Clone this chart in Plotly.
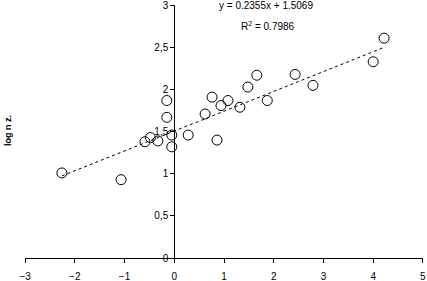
import plotly.graph_objects as go

# Data
x_vals = [-2.26, -1.07, -0.59, -0.48, -0.33, -0.15, -0.15, -0.05, -0.05, 0.28,
          0.62, 0.76, 0.86, 0.94, 1.08, 1.32, 1.48, 1.66, 1.87, 2.43, 2.79, 4.00, 4.22]
y_vals = [1.01, 0.93, 1.38, 1.43, 1.39, 1.87, 1.67, 1.46, 1.32, 1.46,
          1.71, 1.91, 1.40, 1.81, 1.87, 1.79, 2.03, 2.17, 1.87, 2.18, 2.05, 2.33, 2.61]
slope = 0.2355
intercept = 1.5069
r_squared = 0.7986

x_ticks = [-3, -2, -1, 0, 1, 2, 3, 4, 5]
y_ticks = [0, 0.5, 1, 1.5, 2, 2.5, 3]
y_tick_labels = ["0", "0,5", "1", "1,5", "2", "2,5", "3"]

x_fit = [min(x_vals), max(x_vals)]
y_fit = [slope * v + intercept for v in x_fit]

fig = go.Figure()
fig.add_trace(go.Scatter(
    x=x_fit, y=y_fit, mode="lines",
    line=dict(color="black", width=1, dash="dot"),
    hoverinfo="skip", showlegend=False))
fig.add_trace(go.Scatter(
    x=x_vals, y=y_vals, mode="markers",
    marker=dict(symbol="circle-open", size=10, color="black", line=dict(width=1)),
    showlegend=False, cliponaxis=False))

font = dict(family="Liberation Sans, Arial, sans-serif", size=10, color="black")

L, R, T, B = 25, 4, 5, 23
W, H = 427, 281
plot_w = W - L - R
plot_h = H - T - B


def px_to_paper_x(px):
    return (px - L) / plot_w


def py_to_paper_y(py):
    return (H - B - py) / plot_h


fig.update_layout(
    width=W, height=H,
    margin=dict(l=L, r=R, t=T, b=B, autoexpand=False),
    paper_bgcolor="white", plot_bgcolor="white",
    font=font,
    showlegend=False,
    xaxis=dict(range=[-3.002, 5.002], tickvals=x_ticks, showgrid=False, zeroline=False,
               showline=True, linecolor="black", linewidth=1,
               ticks="outside", ticklen=4, tickcolor="black", automargin=False,
               ticklabelstandoff=5, ticklabeloverflow="allow", tickfont=font),
    yaxis=dict(range=[0, 3.004], tickvals=y_ticks, ticktext=y_tick_labels,
               showgrid=False, zeroline=False,
               showline=True, linecolor="black", linewidth=1,
               ticks="outside", ticklen=4, tickcolor="black", automargin=False,
               ticklabeloverflow="allow",
               anchor="free", position=3.002 / 8.004, tickfont=font),
    annotations=[
        dict(text=f"y = {slope}x + {intercept}",
             x=px_to_paper_x(266), y=py_to_paper_y(6), xref="paper", yref="paper",
             xanchor="center", yanchor="middle", showarrow=False, font=font),
        dict(text=f"R<sup>2</sup> = {r_squared}",
             x=px_to_paper_x(268), y=py_to_paper_y(26), xref="paper", yref="paper",
             xanchor="center", yanchor="middle", showarrow=False, font=font),
        dict(text="<b>log n z.</b>",
             x=px_to_paper_x(8), y=py_to_paper_y(131), xref="paper", yref="paper",
             xanchor="center", yanchor="middle", textangle=-90, showarrow=False,
             font=dict(family="Liberation Sans, Arial, sans-serif", size=9, color="black")),
    ],
)

fig.write_html("out.html", config={"displayModeBar": False},
               post_script="document.body.style.margin='0';document.body.style.padding='0';")
